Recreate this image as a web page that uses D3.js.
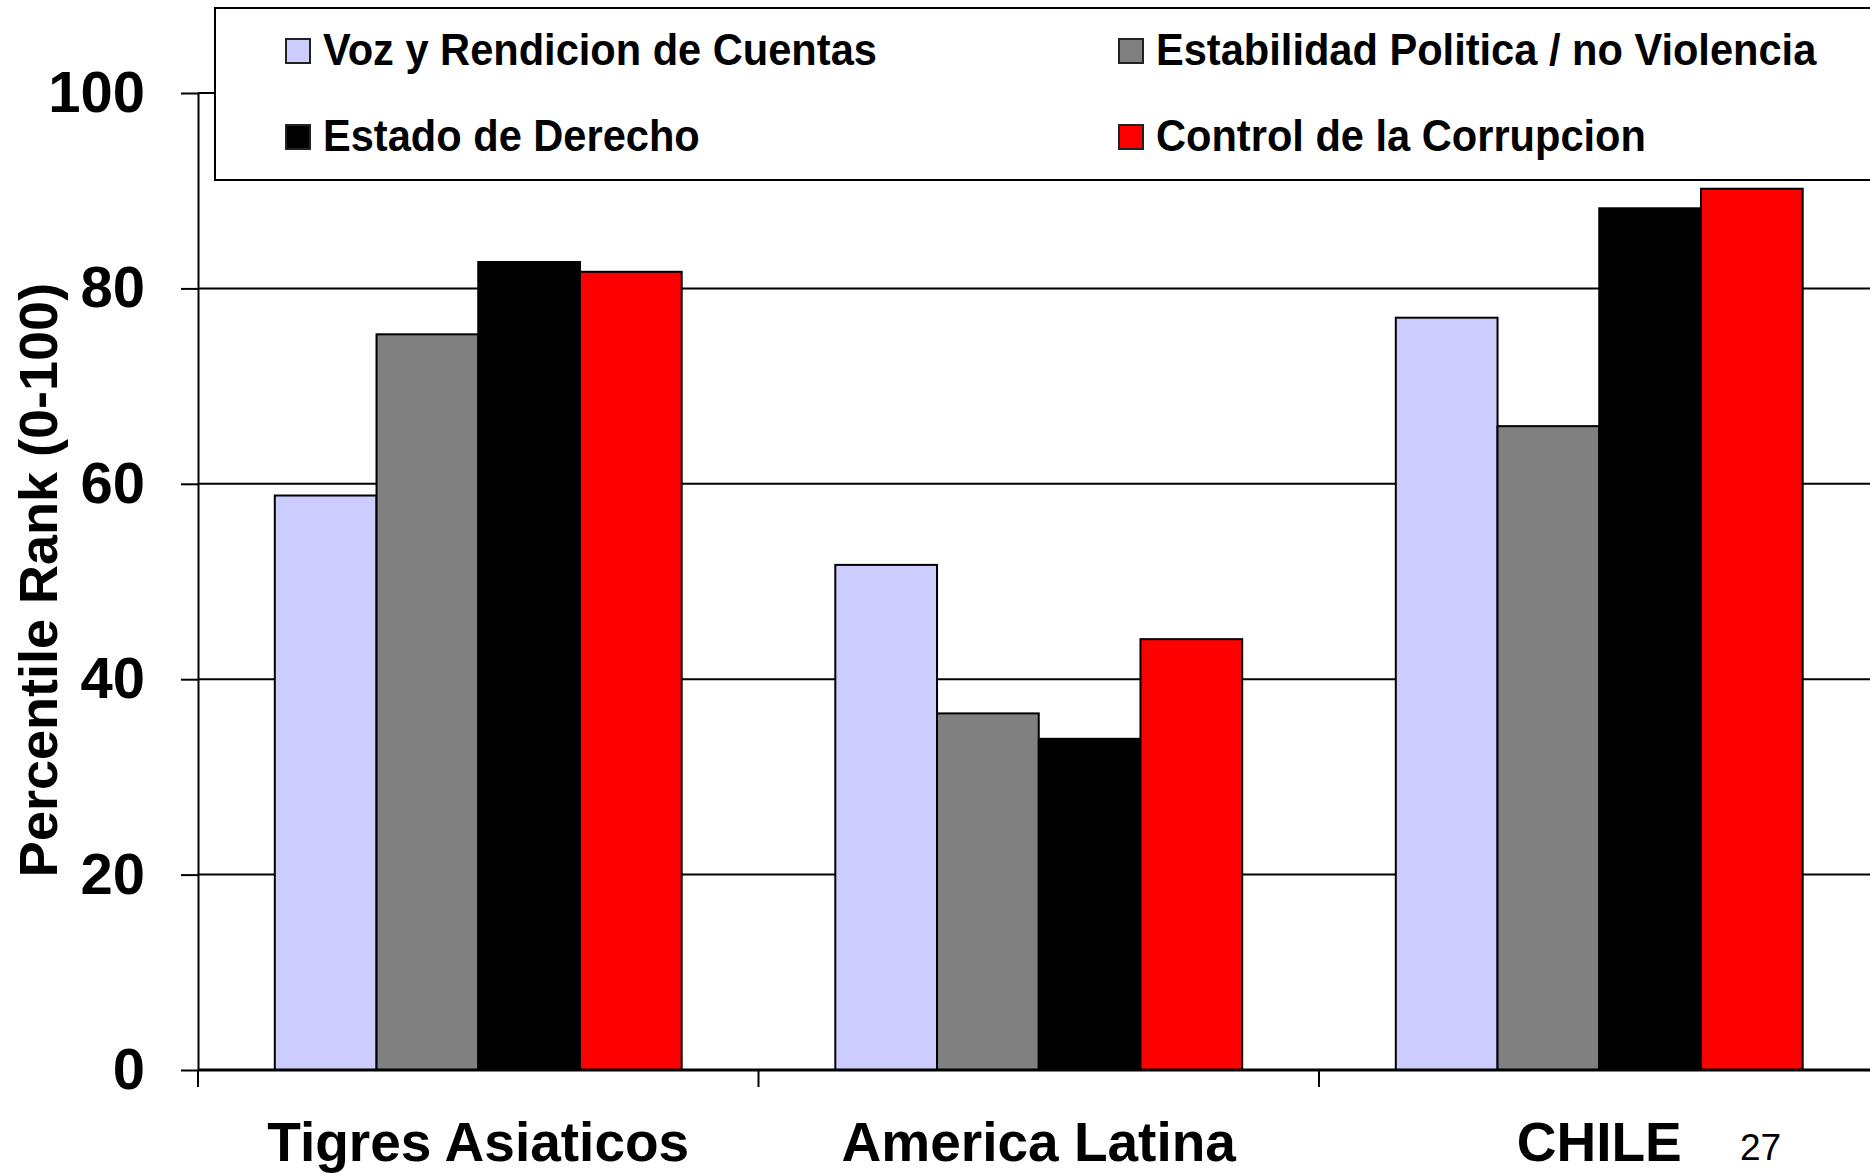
<!DOCTYPE html>
<html>
<head>
<meta charset="utf-8">
<script src="https://cdn.jsdelivr.net/npm/d3@7"></script>
<style>
  html, body { margin: 0; padding: 0; background: #fff; }
  svg { display: block; font-family: "Liberation Sans", Arial, sans-serif; }
</style>
</head>
<body>
<svg id="chart" width="1870" height="1175"></svg>
<script>
// ---- data ----
const categories = ["Tigres Asiaticos", "America Latina", "CHILE"];
const seriesNames = ["Voz y Rendicion de Cuentas", "Estabilidad Politica / no Violencia", "Estado de Derecho", "Control de la Corrupcion"];
const seriesColors = ["#CCCCFF", "#808080", "#000000", "#FF0000"];
const vozValues = [58.8, 51.7, 77.0];
const estabilidadValues = [75.3, 36.5, 65.9];
const derechoValues = [82.7, 33.9, 88.2];
const corrupcionValues = [81.7, 44.1, 90.2];
const yTicks = [0, 20, 40, 60, 80, 100];
const yLabel = "Percentile Rank (0-100)";
const pageNumber = "27";

const seriesValues = [vozValues, estabilidadValues, derechoValues, corrupcionValues];

// ---- layout ----
const svg = d3.select("#chart");
const plotLeft = 198, plotRight = 1879.5, plotTop = 93, plotBottom = 1070;

const x = d3.scaleBand().domain(categories).range([plotLeft, plotRight]).paddingInner(0).paddingOuter(0);
const xs = d3.scaleBand().domain(seriesNames).range([0, x.bandwidth()]).paddingInner(0).paddingOuter(0.755);
const y = d3.scaleLinear().domain([0, 100]).range([plotBottom, plotTop]);
const color = d3.scaleOrdinal().domain(seriesNames).range(seriesColors);

// gridlines
svg.append("g").selectAll("line")
  .data(yTicks.filter(d => d > 0))
  .join("line")
  .attr("x1", plotLeft).attr("x2", 1870)
  .attr("y1", d => y(d)).attr("y2", d => y(d))
  .attr("stroke", "#000").attr("stroke-width", 2);

// bars
const rows = [];
categories.forEach((c, i) => {
  seriesNames.forEach((s, j) => rows.push({ cat: c, series: s, value: seriesValues[j][i] }));
});
svg.append("g").selectAll("rect")
  .data(rows)
  .join("rect")
  .attr("x", d => x(d.cat) + xs(d.series))
  .attr("y", d => y(d.value))
  .attr("width", xs.bandwidth())
  .attr("height", d => y(0) - y(d.value))
  .attr("fill", d => color(d.series))
  .attr("stroke", "#000")
  .attr("stroke-width", 2);

// y axis
const yAxis = svg.append("g")
  .attr("transform", `translate(${plotLeft},0)`)
  .call(d3.axisLeft(y).tickValues(yTicks).tickSize(17).tickSizeOuter(0).tickPadding(36).tickFormat(d3.format("d")));
yAxis.select(".domain").attr("stroke", "#000").attr("stroke-width", 2);
yAxis.selectAll(".tick line").attr("stroke", "#000").attr("stroke-width", 2);
yAxis.selectAll(".tick text")
  .attr("font-size", 58).attr("font-weight", "bold").attr("fill", "#000")
  .attr("font-family", "'Liberation Sans', Arial, sans-serif");

// x axis line + category boundary ticks
svg.append("line")
  .attr("x1", plotLeft).attr("x2", 1870)
  .attr("y1", y(0)).attr("y2", y(0))
  .attr("stroke", "#000").attr("stroke-width", 3);
const boundaries = categories.map(c => x(c)).concat([x.range()[1]]);
svg.append("g").selectAll("line")
  .data(boundaries)
  .join("line")
  .attr("x1", d => d).attr("x2", d => d)
  .attr("y1", y(0)).attr("y2", y(0) + 17)
  .attr("stroke", "#000").attr("stroke-width", 2);

// category labels
svg.append("g").selectAll("text")
  .data(categories)
  .join("text")
  .attr("x", d => x(d) + x.bandwidth() / 2)
  .attr("y", 1161)
  .attr("text-anchor", "middle")
  .attr("font-size", 55).attr("font-weight", "bold")
  .text(d => d);

// y label
svg.append("text")
  .attr("transform", "translate(57,580) rotate(-90)")
  .attr("text-anchor", "middle")
  .attr("font-size", 54).attr("font-weight", "bold")
  .text(yLabel);

// page number
svg.append("text")
  .attr("x", 1740).attr("y", 1160)
  .attr("font-size", 37)
  .text(pageNumber);

// legend
const legend = svg.append("g");
legend.append("rect")
  .attr("x", 215).attr("y", 8).attr("width", 1680).attr("height", 172)
  .attr("fill", "#fff").attr("stroke", "#000").attr("stroke-width", 2);
const legendPos = [
  { sx: 286, ty: 65 }, { sx: 1119, ty: 65 },
  { sx: 286, ty: 151 }, { sx: 1119, ty: 151 }
];
const li = legend.selectAll("g.item")
  .data(seriesNames)
  .join("g").attr("class", "item")
  .attr("transform", (d, i) => `translate(${legendPos[i].sx},${legendPos[i].ty})`);
li.append("rect")
  .attr("x", 0).attr("y", -26).attr("width", 24).attr("height", 24)
  .attr("fill", d => color(d)).attr("stroke", "#222").attr("stroke-width", 2);
li.append("text")
  .attr("x", 37).attr("y", 0)
  .attr("font-size", 41.6).attr("font-weight", "bold")
  .attr("transform", "scale(1,1.06)")
  .text(d => d);
</script>
</body>
</html>
